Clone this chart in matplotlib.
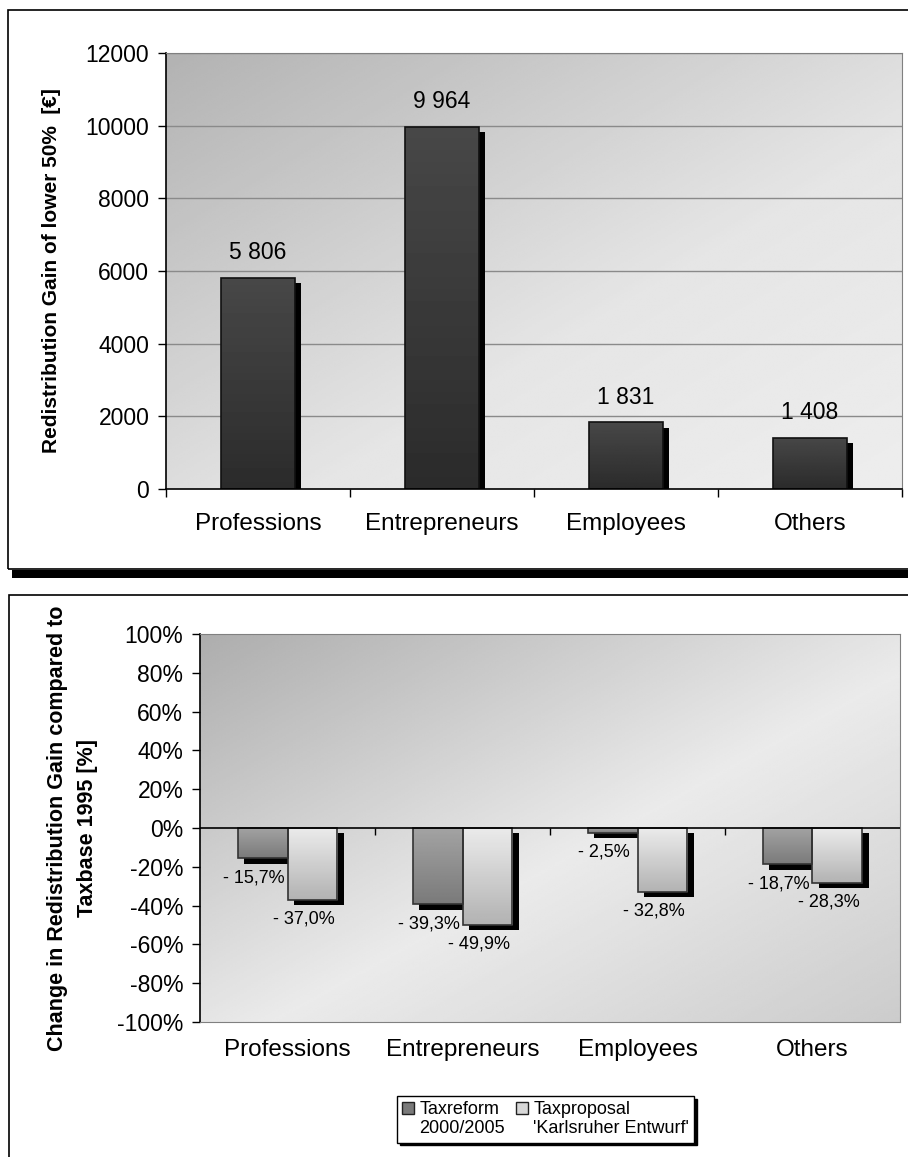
#!/usr/bin/env python
import numpy as np
import matplotlib
matplotlib.use("Agg")
import matplotlib.pyplot as plt
import matplotlib.patheffects as pe
from matplotlib.patches import Rectangle, Patch

plt.rcParams['font.family'] = ['Liberation Sans', 'DejaVu Sans']

# data
categories = ['Professions', 'Entrepreneurs', 'Employees', 'Others']
gain = [5806, 9964, 1831, 1408]
gain_labels = ['5 806', '9 964', '1 831', '1 408']

taxreform = [-15.7, -39.3, -2.5, -18.7]
taxproposal = [-37.0, -49.9, -32.8, -28.3]
taxreform_labels = ['- 15,7%', '- 39,3%', '- 2,5%', '- 18,7%']
taxproposal_labels = ['- 37,0%', '- 49,9%', '- 32,8%', '- 28,3%']

top_yticks = [0, 2000, 4000, 6000, 8000, 10000, 12000]
bot_yticks = [-100, -80, -60, -40, -20, 0, 20, 40, 60, 80, 100]
bot_yticklabels = ['-100%', '-80%', '-60%', '-40%', '-20%', '0%',
                   '20%', '40%', '60%', '80%', '100%']

W, H = 908, 1157
fig = plt.figure(figsize=(W / 100, H / 100), dpi=100)


def bg_gradient(ax, stops, vals):
    n = 200
    xx, yy = np.meshgrid(np.linspace(0, 1, n), np.linspace(0, 1, n))
    t = (xx + yy) / 2.0   # row 0 = top (origin upper)
    img = np.interp(t, stops, vals)
    ax.imshow(img, cmap='gray', vmin=0, vmax=1, extent=[0, 1, 0, 1],
              transform=ax.transAxes, aspect='auto', origin='upper',
              zorder=0, interpolation='bilinear')


def grad_bars(ax, bars, c_top, c_bot, edge='#222222'):
    for b in bars:
        x, y = b.get_x(), b.get_y()
        w, h = b.get_width(), b.get_height()
        g = np.linspace(c_top, c_bot, 60).reshape(-1, 1)
        im = ax.imshow(g, cmap='gray', vmin=0, vmax=1,
                       extent=[x, x + w, min(y, y + h), max(y, y + h)],
                       aspect='auto', origin='upper', zorder=2.1)
        im.set_clip_path(b)
        ax.add_patch(Rectangle((x, y), w, h, fill=False, edgecolor=edge,
                               linewidth=1.2, zorder=2.2))


shadow = [pe.SimplePatchShadow(offset=(4.5, -3.8), shadow_rgbFace='black', alpha=1.0),
          pe.Normal()]

# panel frames
fig.patches.append(Rectangle((8 / W, 1 - 569 / H), 1.0, (569 - 10) / H,
                             transform=fig.transFigure, fill=False,
                             edgecolor='black', linewidth=1.2))
fig.patches.append(Rectangle((12 / W, 1 - 578 / H), 1.0, 8 / H,
                             transform=fig.transFigure, facecolor='black',
                             edgecolor='none'))
fig.patches.append(Rectangle((9 / W, -0.01), 1.0, (H - 595) / H + 0.01,
                             transform=fig.transFigure, fill=False,
                             edgecolor='black', linewidth=1.2))

# ---------------- top chart ----------------
ax1 = fig.add_axes([166 / W, 1 - 489 / H, (902 - 166) / W, (489 - 53) / H])
bg_gradient(ax1, [0, 0.6, 1.0], [0.70, 0.90, 0.93])
x = np.arange(len(categories))
for yv in top_yticks[1:]:
    ax1.axhline(yv, color='#8a8a8a', linewidth=1, zorder=1)
b1 = ax1.bar(x, gain, width=0.40, color='#383838', zorder=2, path_effects=shadow)
grad_bars(ax1, b1, 0.28, 0.17, edge='#111111')
for xi, v, lab in zip(x, gain, gain_labels):
    ax1.annotate(lab, (xi, v), xytext=(0, 10), textcoords='offset points',
                 ha='center', va='bottom', fontsize=16.5)
ax1.set_xlim(-0.5, 3.5)
ax1.set_ylim(0, 12000)
ax1.set_yticks(top_yticks)
ax1.set_yticklabels([str(v) for v in top_yticks])
ax1.set_xticks(x)
ax1.set_xticklabels(categories)
ax1.set_xticks(np.arange(-0.5, 4.0, 1.0), minor=True)
ax1.tick_params(axis='x', which='major', length=0, pad=17, labelsize=17.5)
ax1.tick_params(axis='x', which='minor', length=6, width=1, direction='out')
ax1.tick_params(axis='y', length=6, width=1, pad=6, labelsize=16.5)
for s in ['top', 'right']:
    ax1.spines[s].set_color('#808080')
ax1.spines['left'].set_linewidth(1.2)
ax1.spines['bottom'].set_linewidth(1.2)
ax1.set_ylabel('Redistribution Gain of lower 50%  [€]', fontsize=15,
               fontweight='bold', labelpad=18)

# ---------------- bottom chart ----------------
ax2 = fig.add_axes([200 / W, 1 - 1022 / H, 700 / W, (1022 - 634) / H])
bg_gradient(ax2, [0, 0.55, 1.0], [0.68, 0.92, 0.80])
bw = 0.285
b2 = ax2.bar(x - bw / 2, taxreform, width=bw, color='#909090', zorder=2,
             path_effects=shadow)
b3 = ax2.bar(x + bw / 2, taxproposal, width=bw, color='#d0d0d0', zorder=2,
             path_effects=shadow)
grad_bars(ax2, b2, 0.64, 0.48, edge='#333333')
grad_bars(ax2, b3, 0.92, 0.70, edge='#333333')
for xi, v, lab in zip(x - bw / 2, taxreform, taxreform_labels):
    ax2.annotate(lab, (xi, v), xytext=(-6, -14), textcoords='offset points',
                 ha='center', va='center', fontsize=13)
for xi, v, lab in zip(x + bw / 2, taxproposal, taxproposal_labels):
    ax2.annotate(lab, (xi, v), xytext=(-6, -14), textcoords='offset points',
                 ha='center', va='center', fontsize=13)
ax2.axhline(0, color='black', linewidth=1.2, zorder=3)
ax2.vlines(np.arange(0.5, 3.0, 1.0), -3.5, 0, color='black', linewidth=1, zorder=3)
ax2.set_xlim(-0.5, 3.5)
ax2.set_ylim(-100, 100)
ax2.set_yticks(bot_yticks)
ax2.set_yticklabels(bot_yticklabels)
ax2.set_xticks(x)
ax2.set_xticklabels(categories)
ax2.tick_params(axis='x', length=0, pad=12, labelsize=17.5)
ax2.tick_params(axis='y', length=6, width=1, pad=6, labelsize=16.5)
for s in ['top', 'right', 'bottom']:
    ax2.spines[s].set_color('#808080')
ax2.spines['left'].set_linewidth(1.2)
ax2.set_ylabel('Change in Redistribution Gain compared to\nTaxbase 1995 [%]',
               fontsize=15.5, fontweight='bold', labelpad=14, linespacing=1.55)

# legend
blank = Patch(facecolor='none', edgecolor='none')
handles = [Patch(facecolor='#7a7a7a', edgecolor='#222222'), blank,
           Patch(facecolor='#d8d8d8', edgecolor='#222222'), blank]
labels = ['Taxreform', '2000/2005', 'Taxproposal', "'Karlsruher Entwurf'"]
leg = fig.legend(handles, labels, ncol=2, loc='upper left',
                 bbox_to_anchor=(397 / W, 1 - 1096 / H), fontsize=13,
                 frameon=True, fancybox=False, edgecolor='black',
                 handlelength=0.65, handleheight=0.65, handletextpad=0.3,
                 labelspacing=0.1, columnspacing=0.6, borderpad=0.3,
                 borderaxespad=0,
                 shadow={'color': 'black', 'alpha': 1.0})
leg.get_frame().set_linewidth(1.0)

fig.savefig('out.png', dpi=100)
